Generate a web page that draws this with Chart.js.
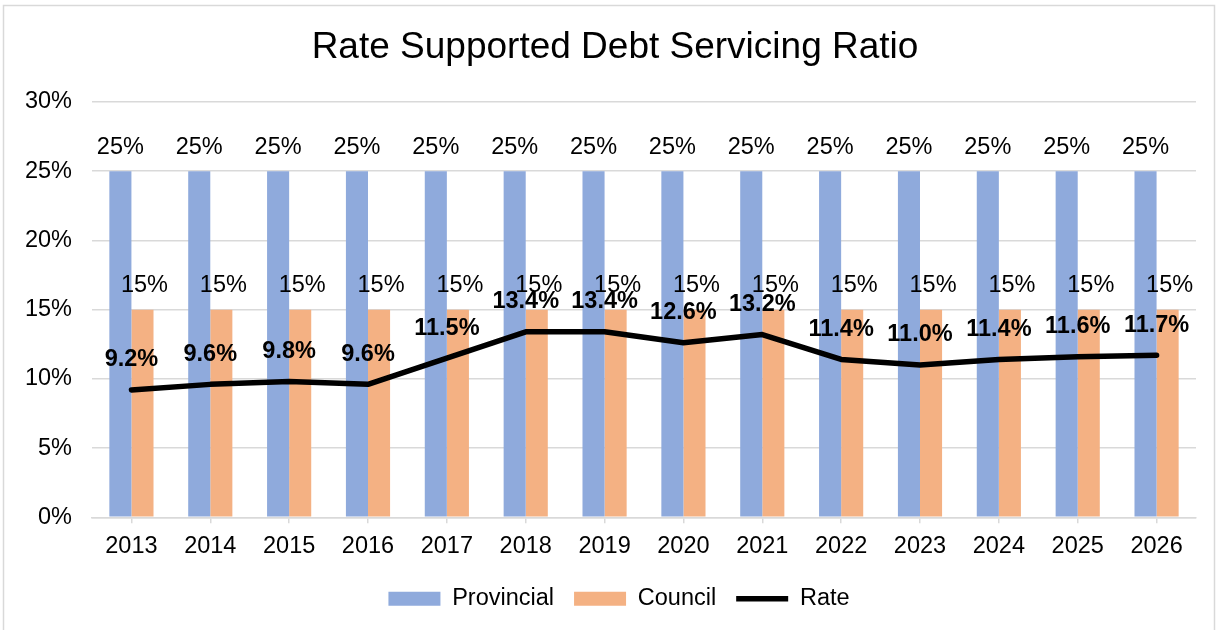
<!DOCTYPE html>
<html>
<head>
<meta charset="utf-8">
<script src="https://cdn.jsdelivr.net/npm/chart.js@4.4.1/dist/chart.umd.min.js"></script>
<style>
html,body{margin:0;padding:0;background:#fff;}
#wrap{position:relative;width:1218px;height:630px;}
</style>
</head>
<body>
<div id="wrap"><canvas id="c" width="1218" height="630"></canvas></div>
<script>
const categories = ['2013','2014','2015','2016','2017','2018','2019','2020','2021','2022','2023','2024','2025','2026'];
const provincial = [25,25,25,25,25,25,25,25,25,25,25,25,25,25];
const council = [15,15,15,15,15,15,15,15,15,15,15,15,15,15];
const rate = [9.2,9.6,9.8,9.6,11.5,13.4,13.4,12.6,13.2,11.4,11.0,11.4,11.6,11.7];
const yTicks = [0,5,10,15,20,25,30];

const FONT = "'Liberation Sans', Arial, sans-serif";
const FS = 23.5;

const borderPlugin = {
  id: 'frame',
  beforeDraw(chart) {
    const ctx = chart.ctx;
    ctx.save();
    ctx.fillStyle = '#fff';
    ctx.fillRect(0, 0, chart.width, chart.height);
    ctx.strokeStyle = '#d9d9d9';
    ctx.lineWidth = 1.5;
    ctx.strokeRect(3.5, 5.5, 1211, 640);
    ctx.restore();
  }
};

const shiftPlugin = {
  id: 'shiftBoxes',
  afterLayout(chart) {
    if (chart.titleBlock) { chart.titleBlock.left += 34; }
    if (chart.legend) { chart.legend.left += 42; }
  }
};

const labelPlugin = {
  id: 'valueLabels',
  afterDatasetsDraw(chart) {
    const ctx = chart.ctx;
    ctx.save();
    ctx.textAlign = 'center';
    ctx.textBaseline = 'middle';
    ctx.fillStyle = '#000';
    [0, 1].forEach(di => {
      const meta = chart.getDatasetMeta(di);
      const data = chart.data.datasets[di].data;
      ctx.font = FS + "px " + FONT;
      meta.data.forEach((el, i) => {
        ctx.fillText(Math.round(data[i]) + '%', el.x + (di === 1 ? 2 : 0), el.y - 24);
      });
    });
    const lm = chart.getDatasetMeta(2);
    ctx.font = "bold " + FS + "px " + FONT;
    lm.data.forEach((el, i) => {
      ctx.fillText(rate[i].toFixed(1) + '%', el.x, el.y - 30);
    });
    ctx.restore();
  }
};

new Chart(document.getElementById('c'), {
  type: 'bar',
  data: {
    labels: categories,
    datasets: [
      { label: 'Provincial', data: provincial, backgroundColor: '#8FAADC', borderWidth: 0, order: 1, pointStyle: 'rect' },
      { label: 'Council', data: council, backgroundColor: '#F4B183', borderWidth: 0, order: 1, pointStyle: 'rect' },
      { label: 'Rate', type: 'line', data: rate, borderColor: '#000', backgroundColor: '#000', borderWidth: 5.5,
        pointRadius: 0, pointHoverRadius: 0, tension: 0, order: 0, pointStyle: 'line',
        borderCapStyle: 'round', borderJoinStyle: 'round' }
    ]
  },
  options: {
    responsive: false,
    animation: false,
    devicePixelRatio: 1,
    datasets: { bar: { categoryPercentage: 0.56, barPercentage: 1.0 } },
    layout: { padding: { left: 0, right: 22, top: 0, bottom: 9.5 } },
    plugins: {
      title: {
        display: true,
        text: 'Rate Supported Debt Servicing Ratio',
        color: '#000',
        font: { family: FONT, size: 37, weight: 'normal', lineHeight: 1.2 },
        padding: { top: 26, bottom: 31.6 }
      },
      legend: {
        position: 'bottom',
        labels: {
          usePointStyle: true,
          pointStyleWidth: 52,
          boxHeight: 14,
          color: '#000',
          padding: 20,
          font: { family: FONT, size: FS },
          sort: (a, b) => a.datasetIndex - b.datasetIndex
        }
      },
      tooltip: { enabled: false }
    },
    scales: {
      x: {
        offset: true,
        grid: { offset: false, drawOnChartArea: false, drawTicks: true, tickLength: 6, color: '#d9d9d9', lineWidth: 1.5 },
        border: { color: '#d9d9d9', width: 1.5 },
        ticks: { color: '#000', font: { family: FONT, size: FS }, padding: 9, maxRotation: 0 },
        afterFit(s) { s.height = 49.75; }
      },
      y: {
        min: 0, max: 30,
        afterBuildTicks(s) { s.ticks = yTicks.map(v => ({ value: v })); },
        grid: { color: '#d9d9d9', lineWidth: 1.5, drawTicks: false },
        border: { display: false },
        ticks: { color: '#000', font: { family: FONT, size: FS }, padding: 20, callback: v => v + '%' },
        afterFit(s) { s.width = 92; }
      }
    }
  },
  plugins: [borderPlugin, shiftPlugin, labelPlugin]
});
</script>
</body>
</html>
